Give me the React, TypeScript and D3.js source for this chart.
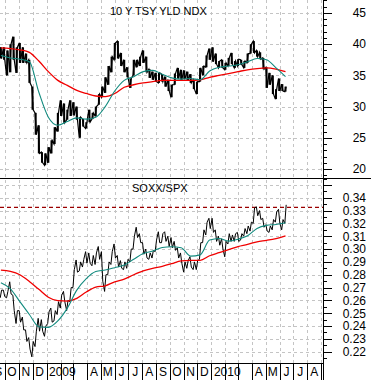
import * as d3 from 'd3'

// weekly readings, first week = 2008-09-22
const firstWeek = new Date(2008, 8, 22)

// 10 Y TSY YLD NDX (weekly high / low)
const yldHigh = [39.5, 39.5, 39, 40, 41.2, 39.5, 40.2, 39.5, 38.5, 37.5,
  33.2, 29, 27, 22.7, 22.5, 23.5, 24.6, 26.7, 29, 31,
  30.5, 29.5, 31, 30.7, 30, 28.3, 28, 27.5, 29.5, 29,
  30, 32, 33.2, 34.7, 36.5, 38, 40.2, 40.5, 38.6, 37.5,
  36.3, 34.5, 37.5, 37.5, 38, 39, 38, 36, 35.6, 35.4,
  35.4, 35.2, 34.8, 34.3, 33.5, 35.3, 36.2, 35.9, 35.8, 35.6,
  35.2, 34.3, 34, 36.2, 36.5, 38.2, 39.3, 39.5, 38.5, 37.3,
  37.5, 37, 37.8, 38.6, 37.3, 37.6, 37.5, 37.3, 38.5, 40,
  40.5, 39, 38.7, 37.8, 36.3, 35.4, 35, 32.8, 34.5, 33.6,
  33.2]
const yldLow = [37.7, 37.5, 35, 35.5, 37.5, 35.4, 37, 37, 37, 33.8,
  29.5, 25.5, 22.5, 21, 20.6, 21, 22.5, 24, 26, 28.5,
  27.4, 27.9, 28.5, 28.6, 27.9, 25, 26.8, 26.5, 27.5, 28,
  28.5, 30.3, 31.5, 32.2, 33.5, 35.5, 37.5, 37.7, 36.5, 35.5,
  34.7, 33, 35, 36.3, 36.5, 37, 35.5, 34.6, 34.3, 34,
  33.8, 34, 33.2, 32.5, 31.5, 33.5, 34.5, 34.3, 34.4, 34.2,
  33.8, 32.8, 32, 34, 35, 36.3, 37.5, 37.2, 36.8, 36.2,
  36.2, 35.9, 36.5, 36.8, 36.2, 36.5, 36.7, 36.2, 37, 38.5,
  38.6, 38, 37.6, 36, 33, 33.5, 32, 31.2, 32.5, 32.5,
  32.4]

// SOXX/SPX (weekly high / low)
const soxHigh = [0.268, 0.268, 0.267, 0.2745, 0.264, 0.252, 0.252, 0.247, 0.237, 0.231,
  0.228, 0.236, 0.246, 0.245, 0.24, 0.251, 0.254, 0.252, 0.259, 0.264,
  0.267, 0.26, 0.27, 0.284, 0.2915, 0.29, 0.292, 0.298, 0.297, 0.295,
  0.297, 0.302, 0.298, 0.28, 0.29, 0.298, 0.304, 0.295, 0.291, 0.29,
  0.292, 0.3, 0.31, 0.317, 0.312, 0.305, 0.3, 0.297, 0.299, 0.307,
  0.3135, 0.312, 0.3135, 0.31, 0.309, 0.306, 0.301, 0.297, 0.29, 0.291,
  0.294, 0.29, 0.291, 0.305, 0.315, 0.321, 0.324, 0.324, 0.315, 0.31,
  0.308, 0.306, 0.312, 0.311, 0.312, 0.313, 0.312, 0.316, 0.318, 0.321,
  0.332, 0.333, 0.33, 0.324, 0.319, 0.318, 0.323, 0.329, 0.331, 0.323,
  0.3345]
const soxLow = [0.262, 0.263, 0.262, 0.265, 0.252, 0.242, 0.243, 0.237, 0.228, 0.222,
  0.216, 0.224, 0.236, 0.236, 0.232, 0.242, 0.243, 0.244, 0.249, 0.254,
  0.259, 0.252, 0.259, 0.27, 0.282, 0.283, 0.286, 0.289, 0.289, 0.287,
  0.288, 0.292, 0.275, 0.267, 0.28, 0.288, 0.293, 0.286, 0.285, 0.284,
  0.285, 0.29, 0.3, 0.309, 0.305, 0.296, 0.293, 0.292, 0.293, 0.298,
  0.305, 0.305, 0.306, 0.302, 0.301, 0.299, 0.293, 0.289, 0.282, 0.285,
  0.286, 0.284, 0.284, 0.292, 0.305, 0.311, 0.316, 0.313, 0.306, 0.303,
  0.3, 0.294, 0.304, 0.306, 0.306, 0.306, 0.307, 0.31, 0.312, 0.314,
  0.32, 0.326, 0.323, 0.317, 0.314, 0.313, 0.315, 0.321, 0.32, 0.315,
  0.32]

// moving averages, one value every 3 weeks
const yldMaLong = [39.4, 39.3, 39.1, 38.7, 37.3, 35.6, 34.2, 33.4, 32.6, 32.1, 31.7, 31.6, 32.1, 33.1, 33.5, 33.8,
  34.0, 34.2, 34.2, 34.2, 34.2, 34.3, 34.7, 35.0, 35.3, 35.6, 35.9, 36.1, 36.2, 36.0, 35.6]
const yldMaShort = [38.2, 37.8, 37.6, 37.2, 32.3, 28.3, 27.0, 27.6, 28.2, 28.0, 28.3, 30.0, 32.5, 34.2, 34.8, 35.6,
  35.8, 35.2, 34.6, 34.4, 34.5, 34.3, 35.7, 36.3, 36.5, 36.7, 37.2, 37.7, 37.5, 36.2, 34.8]
const soxMaLong = [0.2836, 0.2826, 0.28, 0.2748, 0.2686, 0.2625, 0.2598, 0.2595, 0.2616, 0.2665, 0.2703, 0.2714,
  0.2745, 0.2765, 0.28, 0.283, 0.285, 0.2866, 0.2886, 0.2908, 0.2912, 0.2912, 0.2948, 0.2972, 0.2995, 0.302,
  0.3036, 0.3057, 0.3068, 0.3082, 0.3103]
const soxMaShort = [0.2737, 0.269, 0.259, 0.249, 0.2395, 0.239, 0.244, 0.254, 0.268, 0.277, 0.2825, 0.2837,
  0.2855, 0.2875, 0.292, 0.2965, 0.2985, 0.3012, 0.3018, 0.301, 0.2945, 0.2955, 0.307, 0.3083, 0.3062, 0.3077,
  0.3104, 0.3161, 0.3185, 0.3192, 0.3205]

const soxResistance = 0.3325

const yldLabels = [20, 25, 30, 35, 40, 45]
const soxLabels = ['0.22', '0.23', '0.24', '0.25', '0.26', '0.27', '0.28', '0.29', '0.30', '0.31', '0.32', '0.33', '0.34']
const monthLetters = ['J', 'F', 'M', 'A', 'M', 'J', 'J', 'A', 'S', 'O', 'N', 'D']

const FONT = 'Arial, "Liberation Sans", sans-serif'
const GRID = '#c4c4c4'

export default function App() {
  const axisX = 323
  const split = 178
  const base = 363

  const x = d3.scaleTime()
    .domain([new Date(2008, 8, 20), new Date(2010, 8, 5)])
    .range([0, axisX])
  const yTop = d3.scaleLinear().domain([18.56, 47.08]).range([split, 0])
  const yBot = d3.scaleLinear().domain([0.2112, 0.3554]).range([base, split])

  const weeks = yldHigh.map((_, i) => d3.timeDay.offset(firstWeek, i * 7))
  const maWeeks = yldMaLong.map((_, i) => d3.timeDay.offset(firstWeek, i * 21))
  const months = d3.timeMonth.range(new Date(2008, 7, 1), new Date(2010, 9, 1))

  // zigzag through each week's low/high
  const zig = (hi: number[], lo: number[]) => {
    const pts: [Date, number][] = []
    hi.forEach((h, i) => {
      const mid = (h + lo[i]) / 2
      const next = i < hi.length - 1 ? (hi[i + 1] + lo[i + 1]) / 2 : Infinity
      const up = next > mid
      pts.push([d3.timeHour.offset(weeks[i], -36), up ? lo[i] : h])
      pts.push([d3.timeHour.offset(weeks[i], 36), up ? h : lo[i]])
    })
    return pts
  }

  const lineTop = d3.line<[Date, number]>().x(d => x(d[0])).y(d => yTop(d[1]))
  const lineBot = d3.line<[Date, number]>().x(d => x(d[0])).y(d => yBot(d[1]))
  const maTop = d3.line<number>().x((_, i) => x(maWeeks[i])).y(d => yTop(d)).curve(d3.curveMonotoneX)
  const maBot = d3.line<number>().x((_, i) => x(maWeeks[i])).y(d => yBot(d)).curve(d3.curveMonotoneX)

  const monthX = months.map(m => x(m)).filter(v => v > 0 && v < axisX)

  const topTicks = d3.range(19, 48)
  const botTicks = d3.range(43, 72).map(v => v / 200)

  return (
    <div style={{ position: 'absolute', left: 0, top: 0 }}>
      <svg width={371} height={380} style={{ display: 'block', background: '#fff' }} fontFamily={FONT}>
        <defs>
          <clipPath id="plot"><rect x={0} y={0} width={axisX} height={380} /></clipPath>
        </defs>

        {/* grid */}
        <g stroke={GRID} strokeWidth={1} strokeDasharray="3,3" shapeRendering="crispEdges">
          {monthX.map((v, i) => (
            <line key={'v' + i} x1={Math.round(v) + 0.5} x2={Math.round(v) + 0.5} y1={0} y2={base} />
          ))}
          {yldLabels.map(v => (
            <line key={'ht' + v} x1={0} x2={axisX} y1={Math.round(yTop(v)) + 0.5} y2={Math.round(yTop(v)) + 0.5} />
          ))}
          {d3.range(22, 36).map(v => (
            <line key={'hb' + v} x1={0} x2={axisX} y1={Math.round(yBot(v / 100)) + 0.5} y2={Math.round(yBot(v / 100)) + 0.5} />
          ))}
        </g>

        <g clipPath="url(#plot)">
          {/* 10y yield bars */}
          <g stroke="#000">
            {weeks.map((w, i) => (
              <line key={i} x1={x(w)} x2={x(w)} y1={yTop(yldHigh[i])} y2={yTop(yldLow[i])} strokeWidth={2} />
            ))}
          </g>
          <path d={lineTop(zig(yldHigh, yldLow)) ?? ''} fill="none" stroke="#000" strokeWidth={1.2} />
          <path d={maTop(yldMaLong) ?? ''} fill="none" stroke="#f00000" strokeWidth={1.3} />
          <path d={maTop(yldMaShort) ?? ''} fill="none" stroke="#118a7e" strokeWidth={1.1} />

          {/* SOXX/SPX */}
          <line x1={0} x2={axisX} y1={yBot(soxResistance)} y2={yBot(soxResistance)}
            stroke="#9b0000" strokeWidth={1.2} strokeDasharray="4,3" />
          <path d={lineBot(zig(soxHigh, soxLow)) ?? ''} fill="none" stroke="#000" strokeWidth={1} />
          <path d={maBot(soxMaLong) ?? ''} fill="none" stroke="#f00000" strokeWidth={1.3} />
          <path d={maBot(soxMaShort) ?? ''} fill="none" stroke="#118a7e" strokeWidth={1.1} />
        </g>

        {/* titles */}
        <text x={110} y={15} fontSize={11} fill="#000">10 Y TSY YLD NDX</text>
        <text x={132} y={192} fontSize={11} fill="#000">SOXX/SPX</text>

        {/* frame */}
        <g stroke="#000" strokeWidth={1} shapeRendering="crispEdges">
          <line x1={axisX + 0.5} x2={axisX + 0.5} y1={0} y2={380} />
          <line x1={0} x2={371} y1={split + 0.5} y2={split + 0.5} />
          <line x1={0} x2={axisX} y1={base + 0.5} y2={base + 0.5} />
          {topTicks.map(v => (
            <line key={'tt' + v} x1={axisX} x2={axisX + (v % 5 === 0 ? 9 : 4)}
              y1={Math.round(yTop(v)) + 0.5} y2={Math.round(yTop(v)) + 0.5} />
          ))}
          {botTicks.map((v, i) => (
            <line key={'bt' + i} x1={axisX} x2={axisX + (i % 2 === 1 ? 9 : 4)}
              y1={Math.round(yBot(v)) + 0.5} y2={Math.round(yBot(v)) + 0.5} />
          ))}
          {months.map((m, i) => {
            const v = x(m)
            if (v <= 0 || v >= axisX) return null
            return <line key={'mt' + i} x1={Math.round(v) + 0.5} x2={Math.round(v) + 0.5} y1={base} y2={380} />
          })}
        </g>

        {/* y labels */}
        <g fontSize={12} fill="#000" textAnchor="end">
          {yldLabels.map(v => (
            <text key={'yl' + v} x={366} y={yTop(v) + 4.3}>{v}</text>
          ))}
          {soxLabels.map(s => (
            <text key={'sl' + s} x={366} y={yBot(+s) + 4.3}>{s}</text>
          ))}
        </g>

        {/* month labels */}
        <g fontSize={12} fill="#000" clipPath="url(#plot)">
          {months.map((m, i) => {
            const mo = m.getMonth()
            if (mo === 1 || mo === 2) return null
            if (mo === 0) {
              return <text key={'ml' + i} x={x(m) + 2.5} y={376}>{m.getFullYear()}</text>
            }
            const cx = (x(m) + x(d3.timeMonth.offset(m, 1))) / 2
            return <text key={'ml' + i} x={cx} y={376} textAnchor="middle">{monthLetters[mo]}</text>
          })}
        </g>
      </svg>
    </div>
  )
}
